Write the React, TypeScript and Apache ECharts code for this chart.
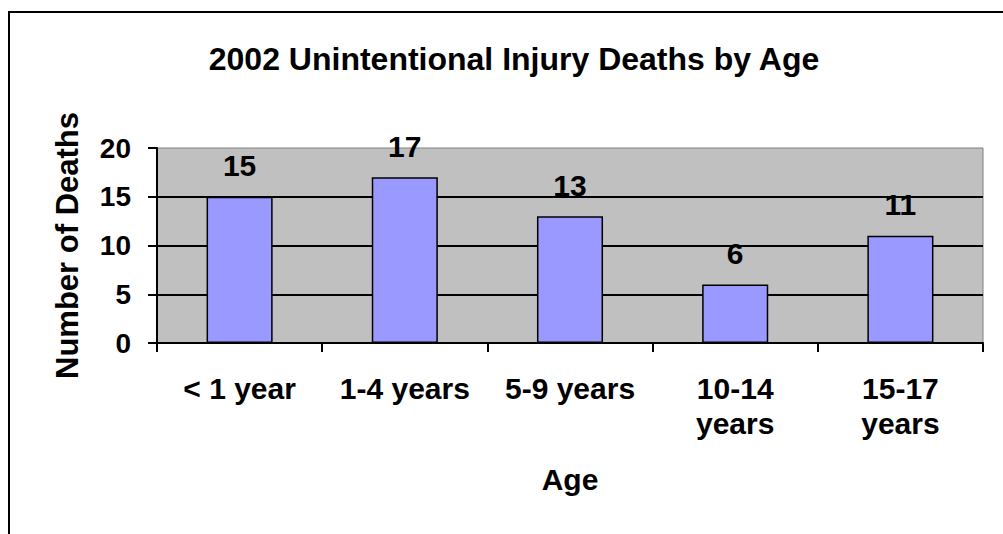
import React, { useEffect, useRef } from "react";
import * as echarts from "echarts";

const categories = ["< 1 year", "1-4 years", "5-9 years", "10-14\nyears", "15-17\nyears"];
const deaths = [15, 17, 13, 6, 11];
const yMin = 0;
const yMax = 20;
const yInterval = 5;
const titleText = "2002 Unintentional Injury Deaths by Age";
const xName = "Age";
const yName = "Number of Deaths";

const FONT = "'Liberation Sans', Arial, Helvetica, sans-serif";

export default function App() {
  const ref = useRef<HTMLDivElement>(null);
  useEffect(() => {
    const chart = echarts.init(ref.current!, null, { renderer: "svg" });
    const txt = (size: number) => ({
      fontSize: size,
      fontWeight: "bold" as const,
      color: "#000",
      fontFamily: FONT,
    });
    chart.setOption({
      animation: false,
      backgroundColor: "#ffffff",
      textStyle: { fontFamily: FONT },
      title: {
        text: titleText,
        left: 514,
        top: 43,
        textAlign: "center",
        padding: 0,
        textStyle: txt(32),
      },
      graphic: [
        {
          type: "rect",
          silent: true,
          z: -1,
          shape: { x: 9, y: 12, width: 1100, height: 600 },
          style: { fill: "none", stroke: "#000", lineWidth: 2 },
        },
      ],
      grid: {
        left: 157,
        right: 20,
        top: 148,
        bottom: 191,
        show: true,
        backgroundColor: "#C0C0C0",
        borderColor: "#808080",
        borderWidth: 1,
      },
      xAxis: {
        type: "category",
        data: categories,
        boundaryGap: true,
        name: xName,
        nameLocation: "middle",
        nameGap: 121,
        nameTextStyle: txt(30),
        axisLine: { show: true, lineStyle: { color: "#000", width: 2 } },
        axisTick: { show: true, length: 9, alignWithLabel: false, lineStyle: { color: "#000", width: 2 } },
        axisLabel: { interval: 0, margin: 28, lineHeight: 35, ...txt(30) },
        splitLine: { show: false },
      },
      yAxis: {
        type: "value",
        min: yMin,
        max: yMax,
        interval: yInterval,
        name: yName,
        nameLocation: "middle",
        nameGap: 74,
        nameTextStyle: txt(31),
        axisLine: { show: true, lineStyle: { color: "#000", width: 2 } },
        axisTick: { show: true, length: 9, lineStyle: { color: "#000", width: 2 } },
        axisLabel: { margin: 26, ...txt(28) },
        splitLine: {
          show: true,
          showMinLine: false,
          showMaxLine: false,
          lineStyle: { color: "#000", width: 2 },
        },
      },
      series: [
        {
          type: "bar",
          data: deaths,
          barCategoryGap: "60%",
          itemStyle: { color: "#9999FF", borderColor: "#000", borderWidth: 1.5 },
          label: { show: true, position: "top", distance: 16, ...txt(30) },
        },
      ],
    });
    return () => chart.dispose();
  }, []);
  return (
    <div
      ref={ref}
      style={{ position: "fixed", left: 0, top: 0, width: 1003, height: 534, background: "#fff" }}
    />
  );
}
